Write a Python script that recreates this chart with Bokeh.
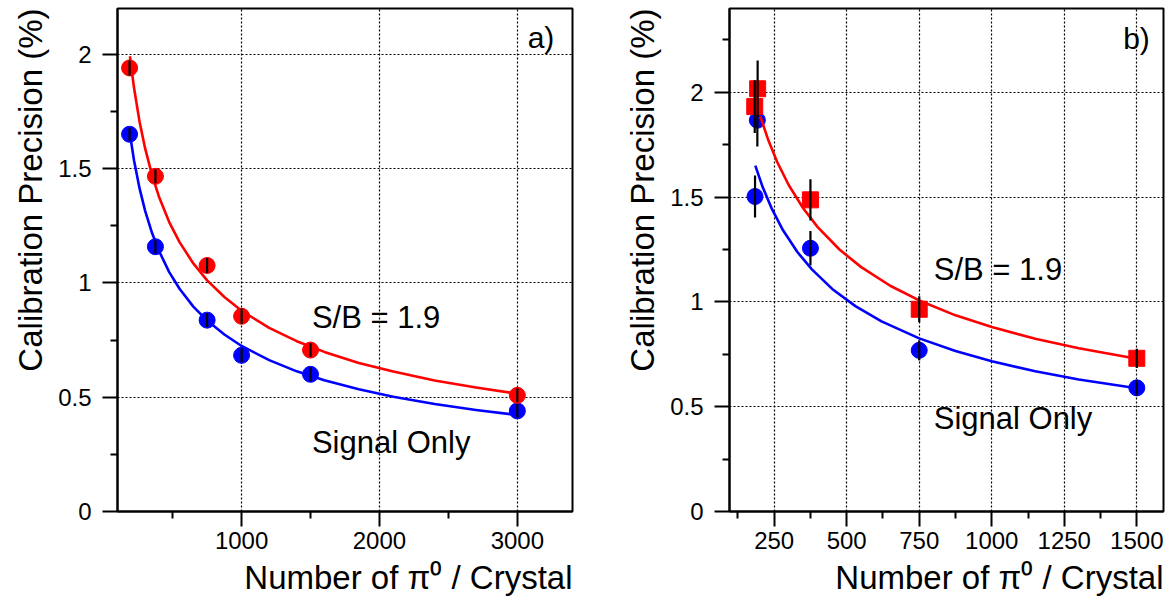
from bokeh.plotting import figure
from bokeh.models import Label, FixedTicker, Title
from bokeh.layouts import row
from bokeh.embed import file_html
from bokeh.resources import INLINE

FONT = "Liberation Sans"
RED = "#ff0000"
BLUE = "#0000ff"

# ---------------- panel a) data ----------------
a_x = [187.5, 375, 750, 1000, 1500, 3000]
a_red = [1.94, 1.466, 1.076, 0.854, 0.706, 0.508]
a_red_err = [0.033, 0.03, 0.033, 0.034, 0.03, 0.03]
a_blue = [1.65, 1.158, 0.837, 0.683, 0.600, 0.440]
a_blue_err = [0.028, 0.03, 0.03, 0.03, 0.03, 0.03]

a_fit_red_x = [190, 220, 260, 300, 350, 400, 475, 550, 650, 750, 875, 1000, 1200, 1400, 1600, 1850, 2100, 2400, 2700, 3000]
a_fit_red_y = [1.991, 1.852, 1.705, 1.589, 1.472, 1.378, 1.266, 1.178, 1.085, 1.011, 0.938, 0.878, 0.803, 0.745, 0.698, 0.650, 0.612, 0.573, 0.542, 0.515]
a_fit_blue_x = [190, 220, 260, 300, 350, 400, 475, 550, 650, 750, 875, 1000, 1200, 1400, 1600, 1850, 2100, 2400, 2700, 3000]
a_fit_blue_y = [1.651, 1.535, 1.413, 1.316, 1.219, 1.141, 1.047, 0.974, 0.896, 0.835, 0.774, 0.724, 0.662, 0.613, 0.574, 0.535, 0.502, 0.470, 0.444, 0.422]

a_xticks = [1000, 2000, 3000]
a_xminor = [500, 1500, 2500]

# ---------------- panel b) data ----------------
b_red_x = [183, 193, 375, 750, 1500]
b_red = [1.932, 2.017, 1.487, 0.965, 0.731]
b_red_err = [0.126, 0.135, 0.098, 0.062, 0.046]
b_blue_x = [184, 192, 375, 750, 1500]
b_blue = [1.503, 1.867, 1.256, 0.769, 0.590]
b_blue_err = [0.10, 0.125, 0.082, 0.048, 0.036]

b_fit_red_x = [202, 230, 260, 300, 350, 400, 475, 550, 650, 750, 875, 1000, 1150, 1300, 1500]
b_fit_red_y = [1.886, 1.771, 1.669, 1.558, 1.447, 1.357, 1.250, 1.166, 1.077, 1.007, 0.936, 0.880, 0.824, 0.779, 0.729]
b_fit_blue_x = [185, 210, 240, 280, 330, 380, 450, 530, 620, 750, 875, 1000, 1150, 1300, 1500]
b_fit_blue_y = [1.650, 1.549, 1.450, 1.343, 1.238, 1.155, 1.062, 0.980, 0.907, 0.826, 0.766, 0.717, 0.669, 0.630, 0.588]

b_xticks = [250, 500, 750, 1000, 1250, 1500]
b_xminor = [125, 375, 625, 875, 1125, 1375]

y_ticks = [0, 0.5, 1, 1.5, 2]
y_labels = {0: "0", 0.5: "0.5", 1: "1", 1.5: "1.5", 2: "2"}
y_minor = [0.25, 0.75, 1.25, 1.75, 2.25]

x_title = "Number of π⁰ / Crystal"
y_title = "Calibration Precision (%)"


def make_fig(width, left, right, bottom, xr, yr, xt, xm):
    p = figure(width=width, height=604, x_range=xr, y_range=yr,
               output_backend="svg", toolbar_location=None,
               min_border_left=left, min_border_right=right,
               min_border_top=8, min_border_bottom=bottom)
    p.background_fill_color = "white"
    p.border_fill_color = "white"
    p.outline_line_color = "black"
    p.outline_line_width = 2
    p.xaxis.ticker = FixedTicker(ticks=xt, minor_ticks=xm)
    p.yaxis.ticker = FixedTicker(ticks=y_ticks, minor_ticks=y_minor)
    p.yaxis.major_label_overrides = y_labels
    for ax in (p.xaxis[0], p.yaxis[0]):
        ax.axis_line_color = "black"
        ax.axis_line_width = 2
        ax.major_tick_line_color = "black"
        ax.major_tick_line_width = 2
        ax.minor_tick_line_color = "black"
        ax.minor_tick_line_width = 2
        ax.major_tick_in = 0
        ax.major_tick_out = 15
        ax.minor_tick_in = 0
        ax.minor_tick_out = 7
        ax.major_label_text_font = FONT
        ax.major_label_text_font_size = "24px"
        ax.major_label_text_color = "black"
    p.xaxis.major_label_standoff = 5
    p.yaxis.major_label_standoff = 11
    for g in (p.xgrid[0], p.ygrid[0]):
        g.grid_line_color = "black"
        g.grid_line_dash = "2 2"
        g.grid_line_width = 1.2
    p.add_layout(Title(text=x_title, align="right", text_font=FONT,
                       text_font_size="33px", text_font_style="normal",
                       text_color="black", standoff=11), "below")
    p.add_layout(Title(text=y_title, align="right", text_font=FONT,
                       text_font_size="33px", text_font_style="normal",
                       text_color="black", standoff=14), "left")
    return p


def add_series(p, x, y, err, fx, fy, color, marker):
    p.line(fx, fy, line_color=color, line_width=2.6, line_join="round")
    p.scatter(x, y, marker=marker, size=16, fill_color=color, line_color=color)
    lo = [v - e for v, e in zip(y, err)]
    hi = [v + e for v, e in zip(y, err)]
    p.segment(x0=x, y0=lo, x1=x, y1=hi, line_color="black", line_width=2.2)


def text(p, x, y, s, size):
    p.add_layout(Label(x=x, y=y, text=s, text_font=FONT, text_font_size=size,
                       text_color="black", text_align="left",
                       text_baseline="alphabetic"))


# ---------------- panel a ----------------
pa = make_fig(590, 117, 18, 92, (100, 3400), (0, 2.2), a_xticks, a_xminor)
add_series(pa, a_x, a_blue, a_blue_err, a_fit_blue_x, a_fit_blue_y, BLUE, "circle")
add_series(pa, a_x, a_red, a_red_err, a_fit_red_x, a_fit_red_y, RED, "circle")
text(pa, 1510, 0.85, "S/B = 1.9", "31px")
text(pa, 1510, 0.30, "Signal Only", "31px")
text(pa, 3075, 2.073, "a)", "30px")

# ---------------- panel b ----------------
pb = make_fig(583, 139, 10, 93, (96, 1592), (0, 2.4), b_xticks, b_xminor)
add_series(pb, b_blue_x, b_blue, b_blue_err, b_fit_blue_x, b_fit_blue_y, BLUE, "circle")
add_series(pb, b_red_x, b_red, b_red_err, b_fit_red_x, b_fit_red_y, RED, "square")
text(pb, 800, 1.155, "S/B = 1.9", "31px")
text(pb, 800, 0.442, "Signal Only", "31px")
text(pb, 1453, 2.258, "b)", "30px")

layout = row(pa, pb)
open("out.html", "w").write(file_html(layout, INLINE))
